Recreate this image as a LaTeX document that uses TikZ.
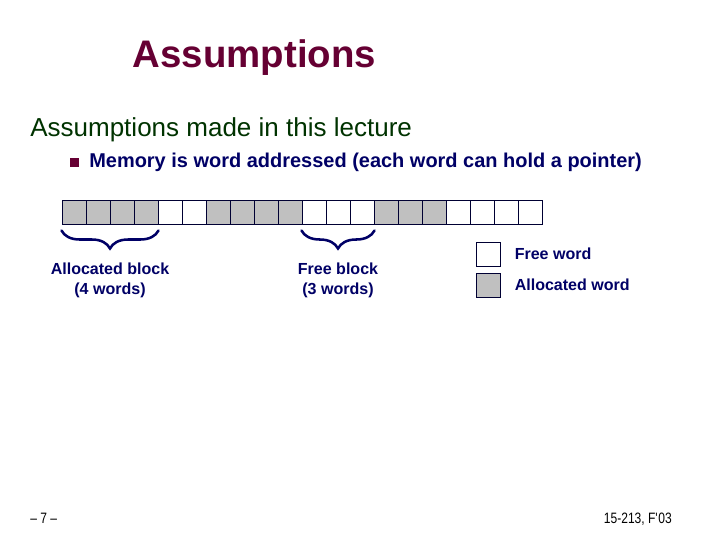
\documentclass[tikz,border=0pt]{standalone}
\usepackage{fontspec}
\setmainfont{Liberation Sans}
\newfontfamily\narrowfont[FakeStretch=0.8]{Liberation Sans}
\usetikzlibrary{positioning, decorations.pathreplacing}
\definecolor{titlered}{HTML}{660033}
\definecolor{headgreen}{HTML}{003300}
\definecolor{textblue}{HTML}{000066}
\definecolor{cellline}{HTML}{000033}
\definecolor{cellgray}{HTML}{C0C0C0}

\begin{document}
\begin{tikzpicture}[
        x=0.025cm, y=-0.025cm,
        wordf/.style={rectangle, draw=cellline, line width=0.7pt, fill=white, minimum width=0.6cm, minimum height=0.6cm, inner sep=0pt},
        worda/.style={wordf, fill=cellgray},
        lbl/.style={font=\fontsize{11.4}{14.2}\selectfont\bfseries, text=textblue, align=center, inner sep=0pt},
        footer/.style={font=\narrowfont\fontsize{10.7}{13}\selectfont, inner sep=0pt},
        brace/.style={decorate, decoration={brace, mirror, amplitude=0.45cm}, line width=1.8pt, draw=textblue, line cap=round},
        node distance=0.15cm and 0.35cm
        ]

        \path[fill=white, use as bounding box] (0,0) rectangle (720,540);

        % Titles
        \node (title) [font=\fontsize{27.3}{32}\selectfont\bfseries, text=titlered, anchor=base] at (254.5,67) {Assumptions};
        \node (head) [font=\fontsize{18.5}{22}\selectfont, text=headgreen, anchor=base west, inner sep=0pt] at (30,136.7) {Assumptions made in this lecture};
        \node (bullet) [rectangle, fill=titlered, minimum size=0.22cm, inner sep=0pt] at (74.5,162.5) {};
        \node (memtext) [lbl, font=\fontsize{14.2}{17}\selectfont\bfseries, anchor=base west] at (89,167.3) {Memory is word addressed (each word can hold a pointer)};

        % Words
        \foreach \f [count=\i from 0] in {cellgray,cellgray,cellgray,cellgray,white,white,cellgray,cellgray,cellgray,cellgray,white,white,white,cellgray,cellgray,cellgray,white,white,white,white}
            \node (w\i) [wordf, fill=\f] at ({74+24*\i},212) {};

        % Braces with labels
        \draw [brace] ([yshift=-0.15cm]w0.south west) -- node[lbl, below=0.79cm] (allocblock) {Allocated block\\(4 words)} ([yshift=-0.15cm]w3.south east);
        \draw [brace] ([yshift=-0.15cm]w10.south west) -- node[lbl, below=0.79cm] (freeblock) {Free block\\(3 words)} ([yshift=-0.15cm]w12.south east);

        % Key
        \node (keyfree) [wordf] at (488,254) {};
        \node (keyalloc) [worda, below=of keyfree] {};
        \node (freetext) [lbl, right=of keyfree] {Free word};
        \node (alloctext) [lbl, right=of keyalloc] {Allocated word};

        % Footer
        \node (pagenum) [footer, anchor=base west] at (30,523) {– 7 –};
        \node (course) [footer, anchor=base east] at (672,523) {15-213, F\textquotesingle03};

    \end{tikzpicture}
\end{document}
